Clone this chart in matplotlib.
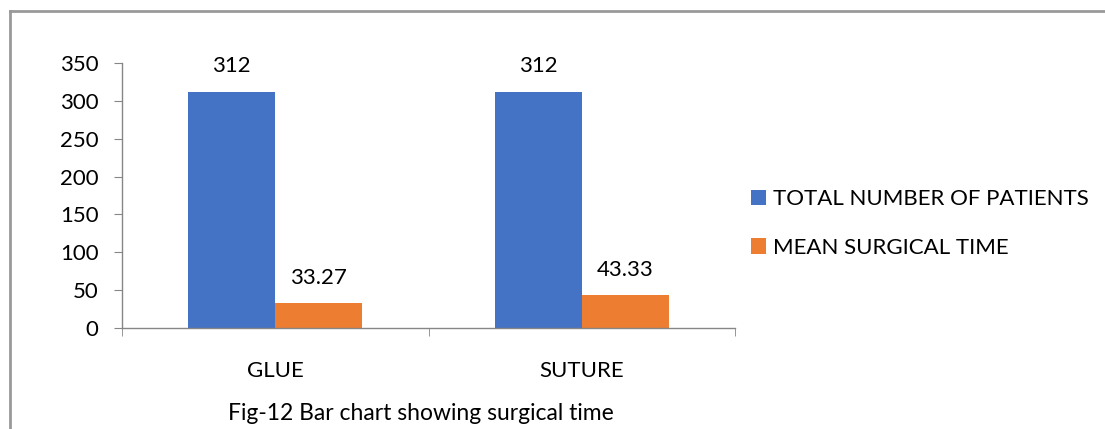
import matplotlib.pyplot as plt
import numpy as np

plt.rcParams['font.family'] = ['Lato', 'DejaVu Sans']

categories = ['GLUE', 'SUTURE']
patients = [312, 312]
surgical_time = [33.27, 43.33]
series_names = ['TOTAL NUMBER OF PATIENTS', 'MEAN SURGICAL TIME']
label_patients = ['312', '312']
label_time = ['33.27', '43.33']

blue = '#4472C4'
orange = '#ED7D31'
grey = '#868686'
fs = 16

fig = plt.figure(figsize=(11.05, 4.29), dpi=100)
ax = fig.add_axes([122/1105, 1-328/429, 613/1105, (328-63)/429])

x = np.arange(len(categories))
w = 0.284
b1 = ax.bar(x - w/2, patients, w, color=blue, label=series_names[0])
b2 = ax.bar(x + w/2, surgical_time, w, color=orange, label=series_names[1])

for rect, txt in zip(b1, label_patients):
    ax.annotate(txt, (rect.get_x() + rect.get_width()/2, rect.get_height()),
                xytext=(0, 11), textcoords='offset points', ha='center', va='bottom', fontsize=fs)
for rect, txt in zip(b2, label_time):
    ax.annotate(txt, (rect.get_x() + rect.get_width()/2, rect.get_height()),
                xytext=(0, 11), textcoords='offset points', ha='center', va='bottom', fontsize=fs)

ax.set_xlim(-0.5, 1.5)
ax.set_ylim(0, 350)
ax.set_yticks(range(0, 351, 50))
ax.set_xticks(x)
ax.set_xticklabels(categories)
ax.set_xticks([-0.5, 0.5, 1.5], minor=True)

for s in ['top', 'right']:
    ax.spines[s].set_visible(False)
for s in ['left', 'bottom']:
    ax.spines[s].set_color(grey)
    ax.spines[s].set_linewidth(1)

ax.tick_params(axis='y', length=6, color=grey, labelsize=fs, pad=11)
ax.tick_params(axis='x', which='major', length=0, labelsize=fs, pad=24)
ax.tick_params(axis='x', which='minor', length=6, color=grey)

ax.legend(loc='center left', bbox_to_anchor=((742-122)/613, 0.394), frameon=False,
          fontsize=fs, handlelength=0.7, handleheight=0.7, handletextpad=0.3,
          labelspacing=1.3, borderaxespad=0)

fig.text(421/1105, 1-414/429, 'Fig-12 Bar chart showing surgical time',
         ha='center', va='center', fontsize=16.5)

# outer frame: top and left edges only
fig.add_artist(plt.Line2D([10/1105, 1104/1105], [1-10.5/429, 1-10.5/429],
                          transform=fig.transFigure, color='#999999', lw=2))
fig.add_artist(plt.Line2D([10/1105, 10/1105], [0, 1-10.5/429],
                          transform=fig.transFigure, color='#999999', lw=2))

fig.savefig('out.png', dpi=100)
